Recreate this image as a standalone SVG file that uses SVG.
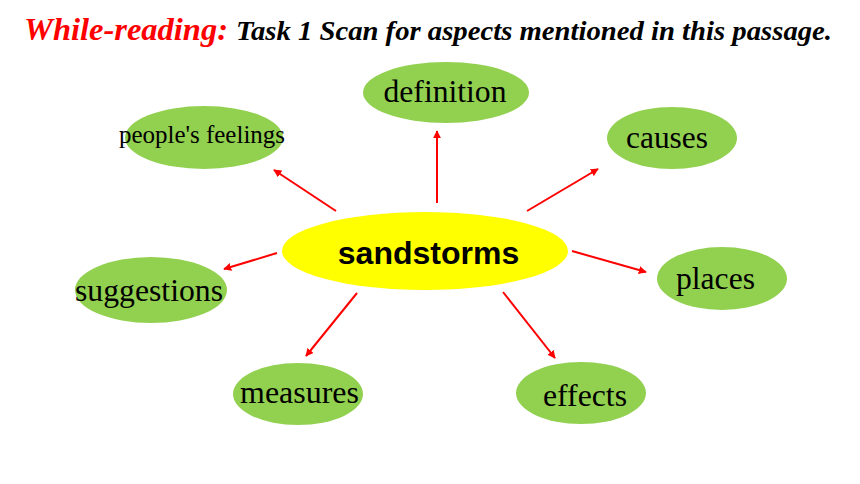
<svg xmlns="http://www.w3.org/2000/svg" width="860" height="484" viewBox="0 0 860 484">
<style>
.leaf{fill:#92D050;}
.lt{font-family:"Liberation Serif","Times New Roman",serif;fill:#000;text-anchor:middle;}
.conn line{stroke:#FF0000;stroke-width:2;marker-end:url(#ah);}
</style>
<defs>
<marker id="ah" viewBox="0 0 10 10" refX="9" refY="5" markerWidth="4" markerHeight="4" orient="auto" markerUnits="strokeWidth">
<path d="M0,0 L10,5 L0,10 z" fill="#FF0000"/>
</marker>
</defs>
<rect width="860" height="484" fill="#FFFFFF"/>
<g id="title" font-family="'Liberation Serif','Times New Roman',serif" font-weight="bold" font-style="italic">
<text x="24" y="39.5" font-size="32.5" fill="#FF0000" textLength="204" lengthAdjust="spacingAndGlyphs">While-reading:</text>
<text x="236" y="39.5" font-size="27" fill="#000000" textLength="596" lengthAdjust="spacingAndGlyphs">Task 1 Scan for aspects mentioned in this passage.</text>
</g>
<g id="connectors" class="conn">
<line x1="437" y1="203" x2="437" y2="131"/>
<line x1="336" y1="211" x2="274" y2="170"/>
<line x1="527" y1="211" x2="598" y2="169"/>
<line x1="277" y1="253" x2="224" y2="269"/>
<line x1="572" y1="251" x2="646" y2="272"/>
<line x1="357" y1="293" x2="306" y2="356"/>
<line x1="503" y1="292" x2="555" y2="358"/>
</g>
<g id="sandstorms">
<ellipse cx="425" cy="251" rx="143" ry="39" fill="#FFFF00"/>
<text x="428.5" y="264" font-family="'Liberation Sans',Arial,sans-serif" font-weight="bold" font-size="32" text-anchor="middle">sandstorms</text>
</g>
<g id="definition">
<ellipse class="leaf" cx="446" cy="92.5" rx="83" ry="30.5"/>
<text class="lt" x="445" y="102" font-size="31" textLength="123" lengthAdjust="spacingAndGlyphs">definition</text>
</g>
<g id="peoples-feelings">
<ellipse class="leaf" cx="204" cy="137.5" rx="79" ry="31.5"/>
<text class="lt" x="202" y="143" font-size="25" textLength="166" lengthAdjust="spacingAndGlyphs">people's feelings</text>
</g>
<g id="causes">
<ellipse class="leaf" cx="672" cy="138" rx="65" ry="31"/>
<text class="lt" x="667" y="148" font-size="31" textLength="82" lengthAdjust="spacingAndGlyphs">causes</text>
</g>
<g id="places">
<ellipse class="leaf" cx="722" cy="278.5" rx="65" ry="31.5"/>
<text class="lt" x="715.5" y="289" font-size="31" textLength="79" lengthAdjust="spacingAndGlyphs">places</text>
</g>
<g id="suggestions">
<ellipse class="leaf" cx="151" cy="290" rx="76" ry="33"/>
<text class="lt" x="149" y="301" font-size="31" textLength="148" lengthAdjust="spacingAndGlyphs">suggestions</text>
</g>
<g id="measures">
<ellipse class="leaf" cx="298" cy="394" rx="65" ry="31"/>
<text class="lt" x="299.5" y="403" font-size="31" textLength="119" lengthAdjust="spacingAndGlyphs">measures</text>
</g>
<g id="effects">
<ellipse class="leaf" cx="581" cy="393" rx="65" ry="31"/>
<text class="lt" x="585" y="406" font-size="31" textLength="84" lengthAdjust="spacingAndGlyphs">effects</text>
</g>
</svg>
